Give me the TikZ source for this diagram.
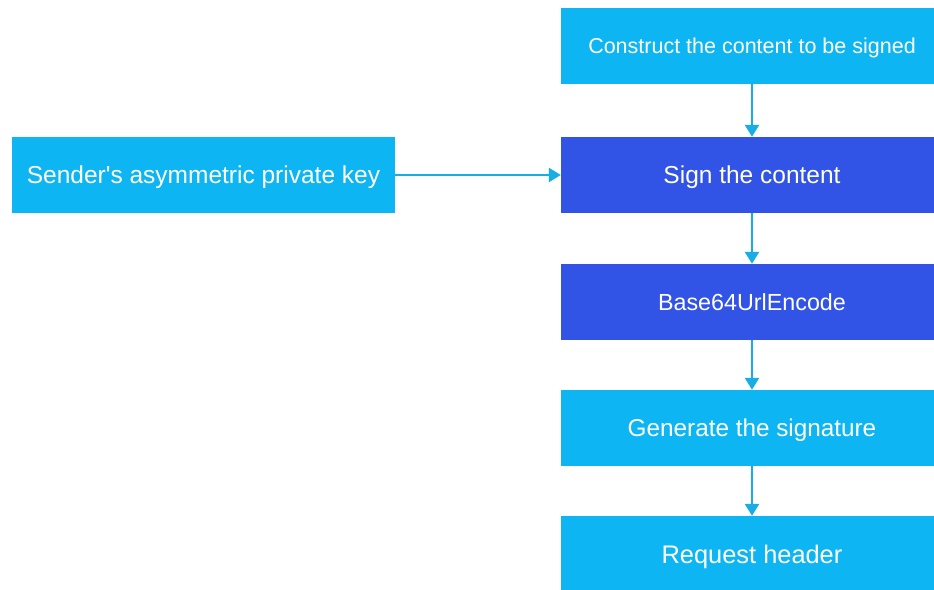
\documentclass[tikz,border=0pt]{standalone}
\usepackage{fontspec}
\setmainfont{Liberation Sans}[Ligatures=TeXOff]
\usetikzlibrary{arrows.meta}
\definecolor{lightbox}{HTML}{0DB5F2}
\definecolor{darkbox}{HTML}{3254E6}
\definecolor{flow}{HTML}{19ADE8}
\tikzset{
  box/.style={rectangle, draw=none, text=white, inner sep=0pt,
              minimum height=76pt, text depth=0pt},
  lbox/.style={box, fill=lightbox},
  dbox/.style={box, fill=darkbox},
  colbox/.style={minimum width=382pt},
  flowarrow/.style={draw=flow, line width=2.6pt,
              -{Triangle[width=14pt,length=12pt]}}
}
\begin{document}
\begin{tikzpicture}[x=1pt,y=-1pt]
  \useasboundingbox (0,0) rectangle (934,589);
  \clip (0,0) rectangle (934,589);
  \fill[white] (0,0) rectangle (934,589);

  % main column (text height = cap height, so capitals sit centred)
  \node[lbox, colbox, text height=15.4pt, font=\fontsize{21.5}{26}\selectfont] (construct) at (752,46) {Construct the content to be signed};
  \node[dbox, colbox, text height=17.5pt, font=\fontsize{24.5}{28}\selectfont] (sign) at (752,175) {Sign the content};
  \node[dbox, colbox, text height=16.7pt, font=\fontsize{23.3}{27}\selectfont] (encode) at (752,302) {Base64UrlEncode};
  \node[lbox, colbox, text height=17.4pt, font=\fontsize{24.3}{28}\selectfont] (gen) at (752,428) {Generate the signature};
  \node[lbox, colbox, text height=18.2pt, font=\fontsize{25.4}{30}\selectfont] (header) at (752,554) {Request header};

  % key input
  \node[lbox, minimum width=383pt, text height=17.5pt, font=\fontsize{24.5}{28}\selectfont] (key) at (203.5,175) {Sender's asymmetric private key};

  % connectors
  \draw[flowarrow] (construct.south) -- (sign.north);
  \draw[flowarrow] (sign.south) -- (encode.north);
  \draw[flowarrow] (encode.south) -- (gen.north);
  \draw[flowarrow] (gen.south) -- (header.north);
  \draw[flowarrow] (key.east) -- (sign.west);
\end{tikzpicture}
\end{document}
